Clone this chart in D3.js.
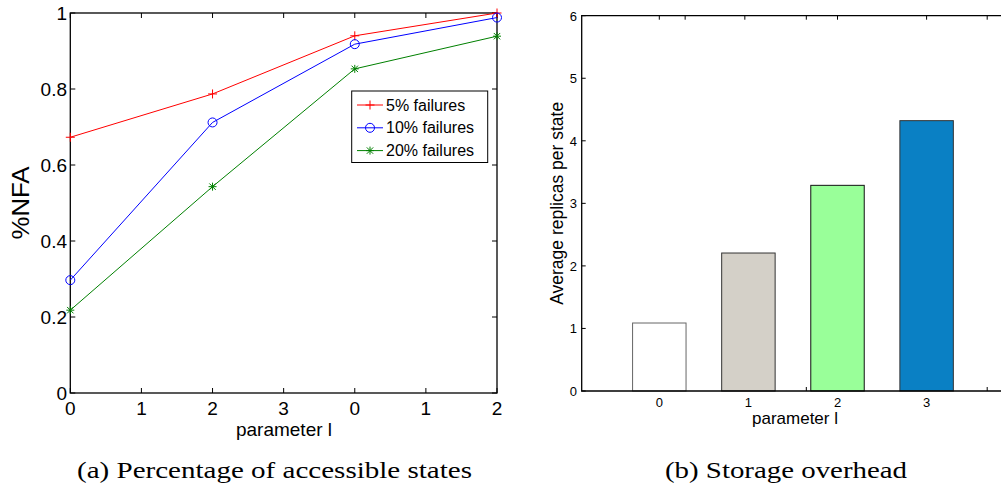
<!DOCTYPE html>
<html>
<head>
<meta charset="utf-8">
<script src="https://cdn.jsdelivr.net/npm/d3@7"></script>
<style>
  body { margin: 0; background: #fff; }
  svg text { font-family: "Liberation Sans", Arial, sans-serif; fill: #000; }
</style>
</head>
<body>
<div id="vis"></div>
<script>
// ---- data (a): accessible states ----
var xTickLabels = ["0", "1", "2", "3", "0", "1", "2"];
var xPositions = [0, 2, 4, 6];
var yTicksA = [0, 0.2, 0.4, 0.6, 0.8, 1];
var fail5 = [0.673, 0.787, 0.940, 1.0];
var fail10 = [0.297, 0.712, 0.918, 0.988];
var fail20 = [0.218, 0.543, 0.853, 0.939];
var seriesNames = ["5% failures", "10% failures", "20% failures"];

// ---- data (b): storage overhead ----
var barCats = [0, 1, 2, 3];
var replicas = [1.087, 2.206, 3.288, 4.322];
var yTicksB = [0, 1, 2, 3, 4, 5, 6];
var extraTicksB = [0, 0.29, 0.96, 1.65, 2, 3, 3.68];

var W = 1001, H = 494;
var svg = d3.select("#vis").append("svg").attr("width", W).attr("height", H);

// ===================== chart (a) =====================
var A = {x0: 70.3, x1: 497, y0: 13, y1: 393};
var xa = d3.scaleLinear().domain([0, 6]).range([A.x0, A.x1]);
var ya = d3.scaleLinear().domain([0, 1]).range([A.y1, A.y0]);
var ga = svg.append("g");

var tk = 5;
// inward ticks all four sides
ga.selectAll("line.xt").data(d3.range(7)).enter().append("line")
    .attr("x1", d => xa(d)).attr("x2", d => xa(d))
    .attr("y1", A.y1).attr("y2", A.y1 - tk).attr("stroke", "#000");
ga.selectAll("line.xtt").data(d3.range(7)).enter().append("line")
    .attr("x1", d => xa(d)).attr("x2", d => xa(d))
    .attr("y1", A.y0).attr("y2", A.y0 + tk).attr("stroke", "#000");
ga.selectAll("line.yt").data(yTicksA).enter().append("line")
    .attr("x1", A.x0).attr("x2", A.x0 + tk)
    .attr("y1", d => ya(d)).attr("y2", d => ya(d)).attr("stroke", "#000");
ga.selectAll("line.ytr").data(yTicksA).enter().append("line")
    .attr("x1", A.x1).attr("x2", A.x1 - tk)
    .attr("y1", d => ya(d)).attr("y2", d => ya(d)).attr("stroke", "#000");

ga.append("rect").attr("x", A.x0).attr("y", A.y0)
    .attr("width", A.x1 - A.x0).attr("height", A.y1 - A.y0)
    .attr("fill", "none").attr("stroke", "#000").attr("stroke-width", 1.3);

ga.selectAll("text.xl").data(xTickLabels).enter().append("text")
    .attr("x", (d, i) => xa(i)).attr("y", 414.5)
    .attr("text-anchor", "middle").style("font-size", "19px").text(d => d);
ga.selectAll("text.yl").data(yTicksA).enter().append("text")
    .attr("x", 67).attr("y", d => ya(d) + 7)
    .attr("text-anchor", "end").style("font-size", "19px")
    .text(d => d3.format("~g")(d));

ga.append("text").attr("x", 284).attr("y", 436).attr("text-anchor", "middle")
    .style("font-size", "19px").text("parameter l");
ga.append("text").attr("transform", "translate(28.5," + ((A.y0 + A.y1) / 2) + ")rotate(-90)")
    .attr("text-anchor", "middle").style("font-size", "24px")
    .attr("textLength", 73).attr("lengthAdjust", "spacingAndGlyphs").text("%NFA");

var seriesA = [
    {name: seriesNames[0], vals: fail5, color: "#ff0000", mk: "plus"},
    {name: seriesNames[1], vals: fail10, color: "#0000ff", mk: "circle"},
    {name: seriesNames[2], vals: fail20, color: "#008000", mk: "star"}
];

var line = d3.line().x((d, i) => xa(xPositions[i])).y(d => ya(d));

function marker(g, type, x, y, color) {
    var s = 4.5;
    if (type === "plus") {
        g.append("path").attr("d", "M" + (x - s) + "," + y + "H" + (x + s) + "M" + x + "," + (y - s) + "V" + (y + s))
            .attr("stroke", color).attr("fill", "none");
    } else if (type === "circle") {
        g.append("circle").attr("cx", x).attr("cy", y).attr("r", 4.5)
            .attr("stroke", color).attr("fill", "none");
    } else {
        var d = 3.2;
        g.append("path").attr("d", "M" + (x - 4) + "," + y + "H" + (x + 4) + "M" + x + "," + (y - 4) + "V" + (y + 4) +
            "M" + (x - d) + "," + (y - d) + "L" + (x + d) + "," + (y + d) + "M" + (x - d) + "," + (y + d) + "L" + (x + d) + "," + (y - d))
            .attr("stroke", color).attr("fill", "none");
    }
}

seriesA.forEach(function (s) {
    ga.append("path").datum(s.vals).attr("d", line)
        .attr("fill", "none").attr("stroke", s.color).attr("stroke-width", 1);
    s.vals.forEach(function (v, i) {
        marker(ga, s.mk, xa(xPositions[i]), ya(v), s.color);
    });
});

// legend
var lg = ga.append("g");
lg.append("rect").attr("x", 351.7).attr("y", 91).attr("width", 136).attr("height", 71.5)
    .attr("fill", "#fff").attr("stroke", "#000").attr("stroke-width", 1);
seriesA.forEach(function (s, i) {
    var yy = 105 + i * 22.8;
    lg.append("line").attr("x1", 357).attr("x2", 383).attr("y1", yy).attr("y2", yy)
        .attr("stroke", s.color);
    marker(lg, s.mk, 370, yy, s.color);
    lg.append("text").attr("x", 386).attr("y", yy + 5.5).style("font-size", "16px").text(s.name);
});

// ===================== chart (b) =====================
var B = {x0: 581.7, y0: 15.7, y1: 391};
var step = 89.1;
var xb = d3.scaleLinear().domain([-0.871, 4]).range([B.x0, B.x0 + 4.871 * step]);
var yb = d3.scaleLinear().domain([0, 6]).range([B.y1, B.y0]);
var gb = svg.append("g");
var barColors = ["#ffffff", "#d4d0c8", "#99ff99", "#0a80c4"];
var barStroke = ["#666", "#333", "#111", "#333"];

gb.selectAll("line.tt").data(extraTicksB).enter().append("line")
    .attr("x1", d => xb(d)).attr("x2", d => xb(d))
    .attr("y1", B.y0).attr("y2", B.y0 + 4).attr("stroke", "#000");
gb.selectAll("line.bt").data(extraTicksB).enter().append("line")
    .attr("x1", d => xb(d)).attr("x2", d => xb(d))
    .attr("y1", B.y1).attr("y2", B.y1 - 4).attr("stroke", "#000");
gb.selectAll("line.lt").data(yTicksB).enter().append("line")
    .attr("x1", B.x0).attr("x2", B.x0 + 4)
    .attr("y1", d => yb(d)).attr("y2", d => yb(d)).attr("stroke", "#000");

gb.selectAll("rect.bar").data(replicas).enter().append("rect")
    .attr("x", (d, i) => xb(barCats[i] - 0.3))
    .attr("width", xb(0.3) - xb(-0.3))
    .attr("y", d => yb(d)).attr("height", d => yb(0) - yb(d))
    .attr("fill", (d, i) => barColors[i]).attr("stroke", (d, i) => barStroke[i]).attr("stroke-width", 1);

gb.append("path").attr("d", "M" + W + "," + B.y0 + "H" + B.x0 + "V" + B.y1 + "H" + W)
    .attr("fill", "none").attr("stroke", "#000").attr("stroke-width", 1.3);

gb.selectAll("text.xl").data(barCats).enter().append("text")
    .attr("x", d => xb(d)).attr("y", 407).attr("text-anchor", "middle")
    .style("font-size", "13px").text(d => d);
gb.selectAll("text.yl").data(yTicksB).enter().append("text")
    .attr("x", 577).attr("y", d => yb(d) + 5).attr("text-anchor", "end")
    .style("font-size", "13px").text(d => d);
gb.append("text").attr("x", 795).attr("y", 424).attr("text-anchor", "middle")
    .style("font-size", "17px").text("parameter l");
gb.append("text").attr("transform", "translate(562.5," + ((B.y0 + B.y1) / 2) + ")rotate(-90)")
    .attr("text-anchor", "middle").style("font-size", "17.5px").text("Average replicas per state");

// captions
svg.append("text").attr("x", 77).attr("y", 478)
    .attr("textLength", 395).attr("lengthAdjust", "spacingAndGlyphs")
    .style("font-family", "'Liberation Serif', 'Times New Roman', serif").style("font-size", "23px")
    .text("(a) Percentage of accessible states");
svg.append("text").attr("x", 665).attr("y", 478)
    .attr("textLength", 242).attr("lengthAdjust", "spacingAndGlyphs")
    .style("font-family", "'Liberation Serif', 'Times New Roman', serif").style("font-size", "23px")
    .text("(b) Storage overhead");
</script>
</body>
</html>
